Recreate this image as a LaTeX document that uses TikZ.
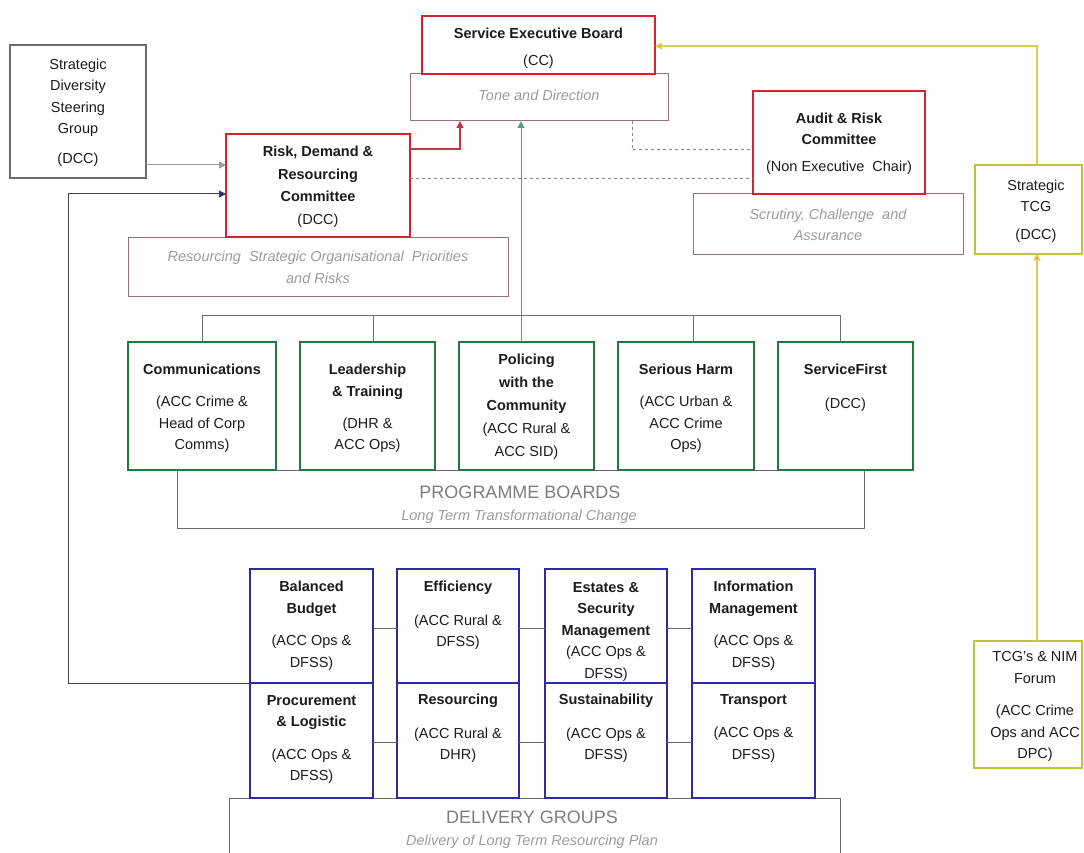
\documentclass[tikz,border=0pt]{standalone}
\usepackage{fontspec}
\setmainfont{Liberation Sans}
\usetikzlibrary{arrows.meta}
\definecolor{cRed}{HTML}{D42232}
\definecolor{cThin}{HTML}{9A6E7C}
\definecolor{cGreen}{HTML}{217A3A}
\definecolor{cBlue}{HTML}{2B2BA8}
\definecolor{cYel}{HTML}{C2C432}
\definecolor{cYelLine}{HTML}{DCCB55}
\definecolor{cOrange}{HTML}{E8A030}
\definecolor{cGreyBox}{HTML}{6A6A6A}
\definecolor{cItal}{HTML}{9C9C9C}
\definecolor{cCaps}{HTML}{7E7E7E}
\definecolor{cBus}{HTML}{667066}
\definecolor{cTeal}{HTML}{5A9A82}
\definecolor{cDash}{HTML}{A07878}
\definecolor{cLoop}{HTML}{3E4050}
\definecolor{cArrBlue}{HTML}{20208A}
\definecolor{cTxt}{HTML}{1C1C1C}
\begin{document}
\begin{tikzpicture}[x=1pt,y=-1pt,
  box/.style={draw, fill=white, inner sep=0pt, outer sep=0pt},
  redbox/.style={box, draw=cRed, line width=2pt},
  thinbox/.style={box, draw=cThin, line width=1pt},
  greybox/.style={box, draw=cGreyBox, line width=1.4pt},
  greenbox/.style={box, draw=cGreen, line width=2pt},
  bluebox/.style={box, draw=cBlue, line width=2pt},
  yelbox/.style={box, draw=cYel, line width=2pt},
  basebox/.style={box, draw=cGreyBox, line width=1pt},
  txt/.style={align=center, inner sep=0pt, text=cTxt, font=\fontsize{14.5}{21.5}\selectfont},
  itxt/.style={align=center, inner sep=0pt, text=cItal, font=\fontsize{14.5}{21.5}\selectfont\itshape},
  capstxt/.style={align=center, inner sep=0pt, text=cCaps, font=\fontsize{18}{22}\selectfont},
  conn/.style={line width=1pt}
]
\useasboundingbox (0,0) rectangle (1084,853);
\fill[white] (0,0) rectangle (1084,853);

% background boxes
\node[thinbox, minimum width=258pt, minimum height=47pt] (tone) at (539,97.5) {};
\node[thinbox, minimum width=380pt, minimum height=59pt] (resb) at (318,266.5) {};
\node[thinbox, minimum width=269.5pt, minimum height=60pt] (scrut) at (828.25,224) {};
\node[basebox, minimum width=687pt, minimum height=58pt] (prog) at (520.5,499) {};
\node[basebox, minimum width=611pt, minimum height=80pt] (deliv) at (534.5,838) {};

% main boxes
\node[redbox, minimum width=233pt, minimum height=57.5pt] (seb) at (538.5,45.25) {};
\node[greybox, minimum width=136pt, minimum height=133pt] (sdsg) at (78,111.5) {};
\node[redbox, minimum width=184pt, minimum height=103pt] (rdr) at (318,185.5) {};
\node[redbox, minimum width=172pt, minimum height=103pt] (audit) at (839,142.5) {};
\node[yelbox, minimum width=107pt, minimum height=88.5pt] (stcg) at (1028.5,209.25) {};
\node[yelbox, minimum width=108pt, minimum height=127pt] (tcgn) at (1028,704.5) {};

\node[greenbox, minimum width=148pt, minimum height=128pt] (comm) at (202,406) {};
\node[greenbox, minimum width=135pt, minimum height=128pt] (lead) at (367.5,406) {};
\node[greenbox, minimum width=135pt, minimum height=128pt] (pol) at (526.5,406) {};
\node[greenbox, minimum width=136pt, minimum height=128pt] (ser) at (686,406) {};
\node[greenbox, minimum width=135pt, minimum height=128pt] (sf) at (845.5,406) {};

\node[bluebox, minimum width=123pt, minimum height=114pt] (bb) at (311.5,626) {};
\node[bluebox, minimum width=122pt, minimum height=114pt] (eff) at (458,626) {};
\node[bluebox, minimum width=122pt, minimum height=114pt] (est) at (606,626) {};
\node[bluebox, minimum width=123pt, minimum height=114pt] (info) at (753.5,626) {};
\node[bluebox, minimum width=123pt, minimum height=115pt] (proc) at (311.5,740.5) {};
\node[bluebox, minimum width=122pt, minimum height=115pt] (resg) at (458,740.5) {};
\node[bluebox, minimum width=122pt, minimum height=115pt] (sus) at (606,740.5) {};
\node[bluebox, minimum width=123pt, minimum height=115pt] (tran) at (753.5,740.5) {};

% connectors
\draw[conn, draw=gray!80, -{Triangle[length=7pt,width=7pt,fill=gray!70]}] (sdsg.east |- 0,165) -- (rdr.west |- 0,165);
\draw[conn, draw=cLoop, -{Triangle[length=7pt,width=7pt,fill=cArrBlue]}] (bb.south west) -- (68,683) -- (68,194) -- (rdr.west |- 0,194);
\draw[conn, draw=cRed!80!gray, line width=1.3pt, -{Triangle[length=7pt,width=7pt]}] (rdr.east |- 0,149) -| (tone.south -| 460,0);
\draw[conn, draw=cDash, dashed] (rdr.east |- 0,179) -- (audit.west |- 0,179);
\draw[conn, draw=cDash, dashed] (tone.south -| 632,0) |- (audit.west |- 0,150);
\draw[conn, draw=cTeal, -{Triangle[length=7pt,width=7pt]}] (pol.north -| 521,0) -- (tone.south -| 521,0);
\draw[conn, draw=cBus] (comm.north -| 202,0) -- (202,315) -- (840,315) -- (sf.north -| 840,0);
\draw[conn, draw=cBus] (lead.north -| 373,0) -- (373,315);
\draw[conn, draw=cBus] (ser.north -| 693,0) -- (693,315);
\draw[conn, draw=cYelLine, line width=1.3pt, -{Triangle[length=7pt,width=7pt,fill=cOrange]}] (stcg.north -| 1037,0) |- (seb.east |- 0,46);
\draw[conn, draw=cYelLine, line width=1.3pt, -{Triangle[length=7pt,width=7pt,fill=cOrange]}] (tcgn.north -| 1037,0) -- (stcg.south -| 1037,0);
\draw[conn, draw=cGreyBox] (bb.east |- 0,628) -- (eff.west |- 0,628);
\draw[conn, draw=cGreyBox] (eff.east |- 0,628) -- (est.west |- 0,628);
\draw[conn, draw=cGreyBox] (est.east |- 0,628) -- (info.west |- 0,628);
\draw[conn, draw=cGreyBox] (proc.east |- 0,742) -- (resg.west |- 0,742);
\draw[conn, draw=cGreyBox] (resg.east |- 0,742) -- (sus.west |- 0,742);
\draw[conn, draw=cGreyBox] (sus.east |- 0,742) -- (tran.west |- 0,742);

% texts
\node[txt] (sebT) at (538.5,48.5) {\textbf{Service Executive Board}\\[5.5pt](CC)};
\node[itxt] (toneT) at (539,95.5) {Tone and Direction};
\node[txt] (sdsgT) at (78,112.5) {Strategic\\Diversity\\Steering\\Group\\[8pt](DCC)};
\node[txt] (rdrT) at (318,186.5) {\textbf{Risk, Demand \&}\\[1pt]\textbf{Resourcing}\\[1pt]\textbf{Committee}\\[1pt](DCC)};
\node[itxt] (resT) at (318,267.5) {Resourcing\ \ Strategic Organisational\ \ Priorities\\and Risks};
\node[txt] (auditT) at (839,143.5) {\textbf{Audit \& Risk}\\\textbf{Committee}\\[5.5pt](Non Executive\ \ Chair)};
\node[itxt] (scrutT) at (828,225) {Scrutiny, Challenge\ \ and\\Assurance};
\node[txt] (stcgT) at (1036,211) {Strategic\\TCG\\[6.5pt](DCC)};

\node[txt] (commT) at (202,408.5) {\textbf{Communications}\\[10.5pt](ACC Crime \&\\Head of Corp\\Comms)};
\node[txt] (leadT) at (367.5,408.5) {\textbf{Leadership}\\\textbf{\& Training}\\[10.5pt](DHR \&\\ACC Ops)};
\node[txt] (polT) at (526.5,407) {\textbf{Policing}\\[1.5pt]\textbf{with the}\\[1.5pt]\textbf{Community}\\[1.5pt](ACC Rural \&\\[1.5pt]ACC SID)};
\node[txt] (serT) at (686,408.5) {\textbf{Serious Harm}\\[10.5pt](ACC Urban \&\\ACC Crime\\Ops)};
\node[txt] (sfT) at (845.5,388) {\textbf{ServiceFirst}\\[12.5pt](DCC)};
\node[capstxt] (progT) at (520,492) {PROGRAMME BOARDS};
\node[itxt] (progS) at (519,517) {Long Term Transformational Change};

\node[txt] (bbT) at (311.5,625.5) {\textbf{Balanced}\\\textbf{Budget}\\[11pt](ACC Ops \&\\DFSS)};
\node[txt] (effT) at (458,615) {\textbf{Efficiency}\\[12.5pt](ACC Rural \&\\DFSS)};
\node[txt] (estT) at (606,631.5) {\textbf{Estates \&}\\\textbf{Security}\\\textbf{Management}\\(ACC Ops \&\\DFSS)};
\node[txt] (infoT) at (753.5,625.5) {\textbf{Information}\\\textbf{Management}\\[11pt](ACC Ops \&\\DFSS)};
\node[txt] (procT) at (311.5,739.5) {\textbf{Procurement}\\\textbf{\& Logistic}\\[11pt](ACC Ops \&\\DFSS)};
\node[txt] (resgT) at (458,728.5) {\textbf{Resourcing}\\[12pt](ACC Rural \&\\DHR)};
\node[txt] (susT) at (606,728.5) {\textbf{Sustainability}\\[12pt](ACC Ops \&\\DFSS)};
\node[txt] (tranT) at (753.5,728.5) {\textbf{Transport}\\[12pt](ACC Ops \&\\DFSS)};
\node[capstxt] (delivT) at (532,817) {DELIVERY GROUPS};
\node[itxt] (delivS) at (532,842) {Delivery of Long Term Resourcing Plan};
\node[txt] (tcgnT) at (1035,706.5) {TCG's \& NIM\\Forum\\[11pt](ACC Crime\\Ops and ACC\\DPC)};
\end{tikzpicture}
\end{document}
